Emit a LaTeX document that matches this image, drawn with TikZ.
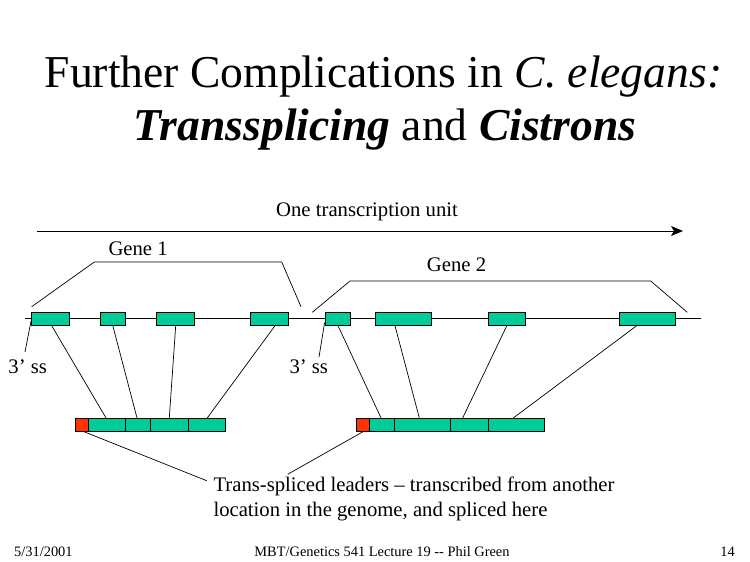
\documentclass[tikz,border=0pt]{standalone}
\usepackage{fontspec}
\setmainfont{Liberation Serif}
\usetikzlibrary{arrows.meta,calc}
\definecolor{exongreen}{RGB}{0,204,153}
\definecolor{leaderred}{RGB}{255,51,0}
\begin{document}
\begin{tikzpicture}[x=1pt,y=-1pt,
  exon/.style={draw=black, fill=exongreen, line width=0.8pt, inner sep=0pt, minimum height=13pt},
  leader/.style={exon, fill=leaderred},
  conn/.style={draw=black, line width=0.7pt},
  bodytext/.style={font=\fontsize{20.7}{25}\selectfont, inner sep=0pt, anchor=base west},
  titletext/.style={font=\fontsize{45.6}{53}\selectfont, inner sep=0pt, anchor=base},
  foottext/.style={font=\fontsize{14.4}{16}\selectfont, inner sep=0pt}]
\useasboundingbox[fill=white] (0,0) rectangle (750,562);

% title
\node[titletext] (t1) at (383.5,87) {Further Complications in \textit{C. elegans:}};
\node[titletext] (t2) at (385,140) {\textbf{\textit{Transsplicing}} and \textbf{\textit{Cistrons}}};

% transcription unit arrow
\coordinate (a0) at (37,231);
\coordinate (a1) at (683,231);
\draw[conn, -{Stealth[length=12pt,width=10pt,inset=3pt]}] (a0) -- (a1);
\node[bodytext] (unit) at (276,216) {One transcription unit};

% gene brackets
\coordinate (g1a) at (31.7,306.7);
\coordinate (g1b) at (94.3,262);
\coordinate (g1c) at (281.7,262);
\coordinate (g1d) at (301,306.7);
\draw[conn] (g1a) -- (g1b) -- (g1c) -- (g1d);
\node[bodytext] (gene1) at (108.3,255) {Gene 1};

\coordinate (g2a) at (312.3,312.3);
\coordinate (g2b) at (350,281);
\coordinate (g2c) at (650.7,281);
\coordinate (g2d) at (687.3,312.3);
\draw[conn] (g2a) -- (g2b) -- (g2c) -- (g2d);
\node[bodytext] (gene2) at (426.7,271.7) {Gene 2};

% genomic line
\coordinate (ls) at (25,318.8);
\coordinate (le) at (701,318.8);
\draw[conn] (ls) -- (le);

% exons
\node[exon, minimum width=37.6pt] (e1) at (50.5,318.8) {};
\node[exon, minimum width=25pt]   (e2) at (112.8,318.8) {};
\node[exon, minimum width=38pt]   (e3) at (175.3,318.8) {};
\node[exon, minimum width=38pt]   (e4) at (269.3,318.8) {};
\node[exon, minimum width=24.6pt] (e5) at (338,318.8) {};
\node[exon, minimum width=56.4pt] (e6) at (403.5,318.8) {};
\node[exon, minimum width=37pt]   (e7) at (506.8,318.8) {};
\node[exon, minimum width=56.4pt] (e8) at (647.5,318.8) {};

% 3' splice sites
\coordinate (ss1) at (25,352);
\coordinate (ss2) at (319,357);
\draw[conn] ($(e1.south west)+(-0.3,-4.5)$) -- (ss1);
\draw[conn] ($(e5.south west)+(-0.7,-3)$) -- (ss2);
\node[bodytext] (ssl1) at (8.3,373.3) {3’ ss};
\node[bodytext] (ssl2) at (289.3,373.3) {3’ ss};

% mRNA 1
\node[leader, minimum width=12.6pt] (r1) at (82,424.8) {};
\node[exon, minimum width=37.4pt] (s11) at (107,424.8) {};
\node[exon, minimum width=25pt]   (s12) at (138.2,424.8) {};
\node[exon, minimum width=38pt]   (s13) at (169.7,424.8) {};
\node[exon, minimum width=36.6pt] (s14) at (207,424.8) {};

% mRNA 2
\node[leader, minimum width=12.6pt] (r2) at (363,424.8) {};
\node[exon, minimum width=25pt]   (s21) at (381.8,424.8) {};
\node[exon, minimum width=56pt]   (s22) at (422.3,424.8) {};
\node[exon, minimum width=38.2pt] (s23) at (469.4,424.8) {};
\node[exon, minimum width=55.8pt] (s24) at (516.4,424.8) {};

% splicing connectors
\draw[conn] ($(e1.south)+(1.2,0)$) -- ($(s11.north)+(-1,0)$);
\draw[conn] (e2.south) -- ($(s12.north)+(-1.2,0)$);
\draw[conn] ($(e3.south)+(0.4,0)$) -- ($(s13.north)+(-0.4,0)$);
\draw[conn] ($(e4.south)+(5.7,0)$) -- ($(s14.north)+(0.3,0)$);
\draw[conn] (e5.south) -- ($(s21.north)+(-0.8,0)$);
\draw[conn] ($(e6.south)+(-8.5,0)$) -- ($(s22.north)+(-3,0)$);
\draw[conn] (e7.south) -- ($(s23.north)+(-6.7,0)$);
\draw[conn] ($(e8.south)+(-10.8,0)$) -- ($(s24.north)+(-3,0)$);

% trans-spliced leader labels
\coordinate (l1end) at (206.7,480.7);
\coordinate (l2end) at (287.7,474.3);
\draw[conn] ($(r1.south)+(2,0)$) -- (l1end);
\draw[conn] (r2.south) -- (l2end);
\node[bodytext] (lead1) at (213.3,491.7) {Trans-spliced leaders – transcribed from another};
\node[bodytext] (lead2) at (213.3,516.7) {location in the genome, and spliced here};

% footer
\node[foottext, anchor=base west] (date) at (14,556) {5/31/2001};
\node[foottext, anchor=base] (course) at (382,556) {MBT/Genetics 541 Lecture 19 -{}- Phil Green};
\node[foottext, anchor=base east] (page) at (735,556) {14};
\end{tikzpicture}
\end{document}
